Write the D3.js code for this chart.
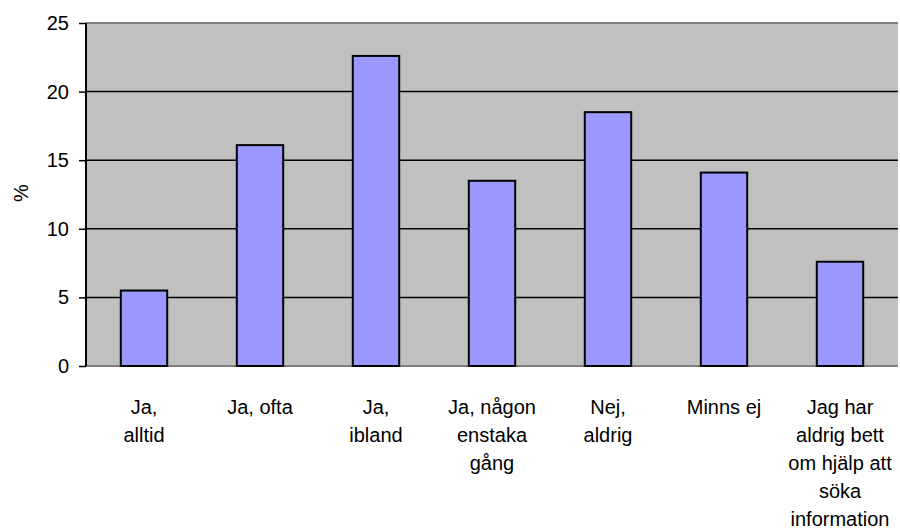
<!DOCTYPE html>
<html>
<head>
<meta charset="utf-8">
<script src="https://cdn.jsdelivr.net/npm/d3@7"></script>
<style>
  body { margin: 0; background: #fff; }
  text { font-family: "Liberation Sans", Arial, sans-serif; fill: #000; }
</style>
</head>
<body>
<svg id="chart"></svg>
<script>
let barFill = "#9999FF";
let plotBg = "#C0C0C0";
let borderGray = "#808080";

// data
const categories = [
  ["Ja,", "alltid"],
  ["Ja, ofta"],
  ["Ja,", "ibland"],
  ["Ja, någon", "enstaka", "gång"],
  ["Nej,", "aldrig"],
  ["Minns ej"],
  ["Jag har", "aldrig bett", "om hjälp att", "söka", "information"]
];
const values = [5.5, 16.1, 22.6, 13.5, 18.5, 14.1, 7.6];
const yTicks = [0, 5, 10, 15, 20, 25];
const yLabel = "%";

const width = 900;
const height = 531;
const margin = { top: 23, right: 2, bottom: 165, left: 86 };

let boundedWidth = width - margin.left - margin.right;
let boundedHeight = height - margin.top - margin.bottom;

const svg = d3.select('#chart')
  .attr('width', width)
  .attr('height', height);

const g = svg.append('g')
  .attr('transform', `translate(${margin.left}, ${margin.top})`);

const keys = categories.map(d => d.join(" "));

const xScale = d3.scaleBand()
  .domain(keys)
  .range([0, boundedWidth])
  .paddingInner(0.6)
  .paddingOuter(0.3);

const yScale = d3.scaleLinear()
  .domain([0, 25])
  .range([boundedHeight, 0]);

// plot background
g.append("rect")
  .attr("width", boundedWidth)
  .attr("height", boundedHeight)
  .attr("fill", plotBg);

// gridlines
g.selectAll(".grid")
  .data(yTicks.filter(t => t > 0 && t < 25))
  .enter()
  .append("line")
  .attr("x1", 0)
  .attr("x2", boundedWidth)
  .attr("y1", d => yScale(d))
  .attr("y2", d => yScale(d))
  .attr("stroke", "#000")
  .attr("stroke-width", 1.5);

// top and bottom border
g.append("line")
  .attr("x1", 0).attr("x2", boundedWidth)
  .attr("y1", yScale(25)).attr("y2", yScale(25))
  .attr("stroke", borderGray).attr("stroke-width", 2);

g.append("line")
  .attr("x1", 0).attr("x2", boundedWidth)
  .attr("y1", yScale(0)).attr("y2", yScale(0))
  .attr("stroke", borderGray).attr("stroke-width", 2);

// bars
g.selectAll('.bar')
  .data(values)
  .enter()
  .append('rect')
  .attr('class', 'bar')
  .attr('x', (d, i) => xScale(keys[i]))
  .attr('y', d => yScale(d))
  .attr('width', xScale.bandwidth())
  .attr('height', d => yScale(0) - yScale(d))
  .attr('fill', barFill)
  .attr('stroke', '#000')
  .attr('stroke-width', 2);

// y axis
const yAxis = g.append("g")
  .attr("class", "yaxis")
  .call(d3.axisLeft(yScale)
    .tickValues(yTicks)
    .tickSize(7)
    .tickPadding(10)
    .tickFormat(d3.format("d")));

yAxis.select(".domain")
  .attr("stroke", "#000")
  .attr("stroke-width", 2)
  .attr("d", `M0,${yScale(25)}V${yScale(0)}`);

yAxis.selectAll(".tick line")
  .attr("stroke", "#000")
  .attr("stroke-width", 1.5);

yAxis.selectAll(".tick text")
  .style("font-size", "20px")
  .style("font-family", "Liberation Sans, Arial, sans-serif")
  .attr("fill", "#000");

// y label
svg.append("text")
  .attr("transform", `translate(28, 193) rotate(-90)`)
  .attr("text-anchor", "middle")
  .style("font-size", "20px")
  .text(yLabel);

// x labels
const xLabels = g.selectAll(".xlabel")
  .data(categories)
  .enter()
  .append("text")
  .attr("class", "xlabel")
  .attr("text-anchor", "middle")
  .attr("x", (d, i) => xScale(keys[i]) + xScale.bandwidth() / 2)
  .attr("y", boundedHeight + 48)
  .style("font-size", "20px");

xLabels.selectAll("tspan")
  .data(d => d)
  .enter()
  .append("tspan")
  .attr("x", function () { return d3.select(this.parentNode).attr("x"); })
  .attr("dy", (d, i) => i === 0 ? 0 : 28)
  .text(d => d);
</script>
</body>
</html>
